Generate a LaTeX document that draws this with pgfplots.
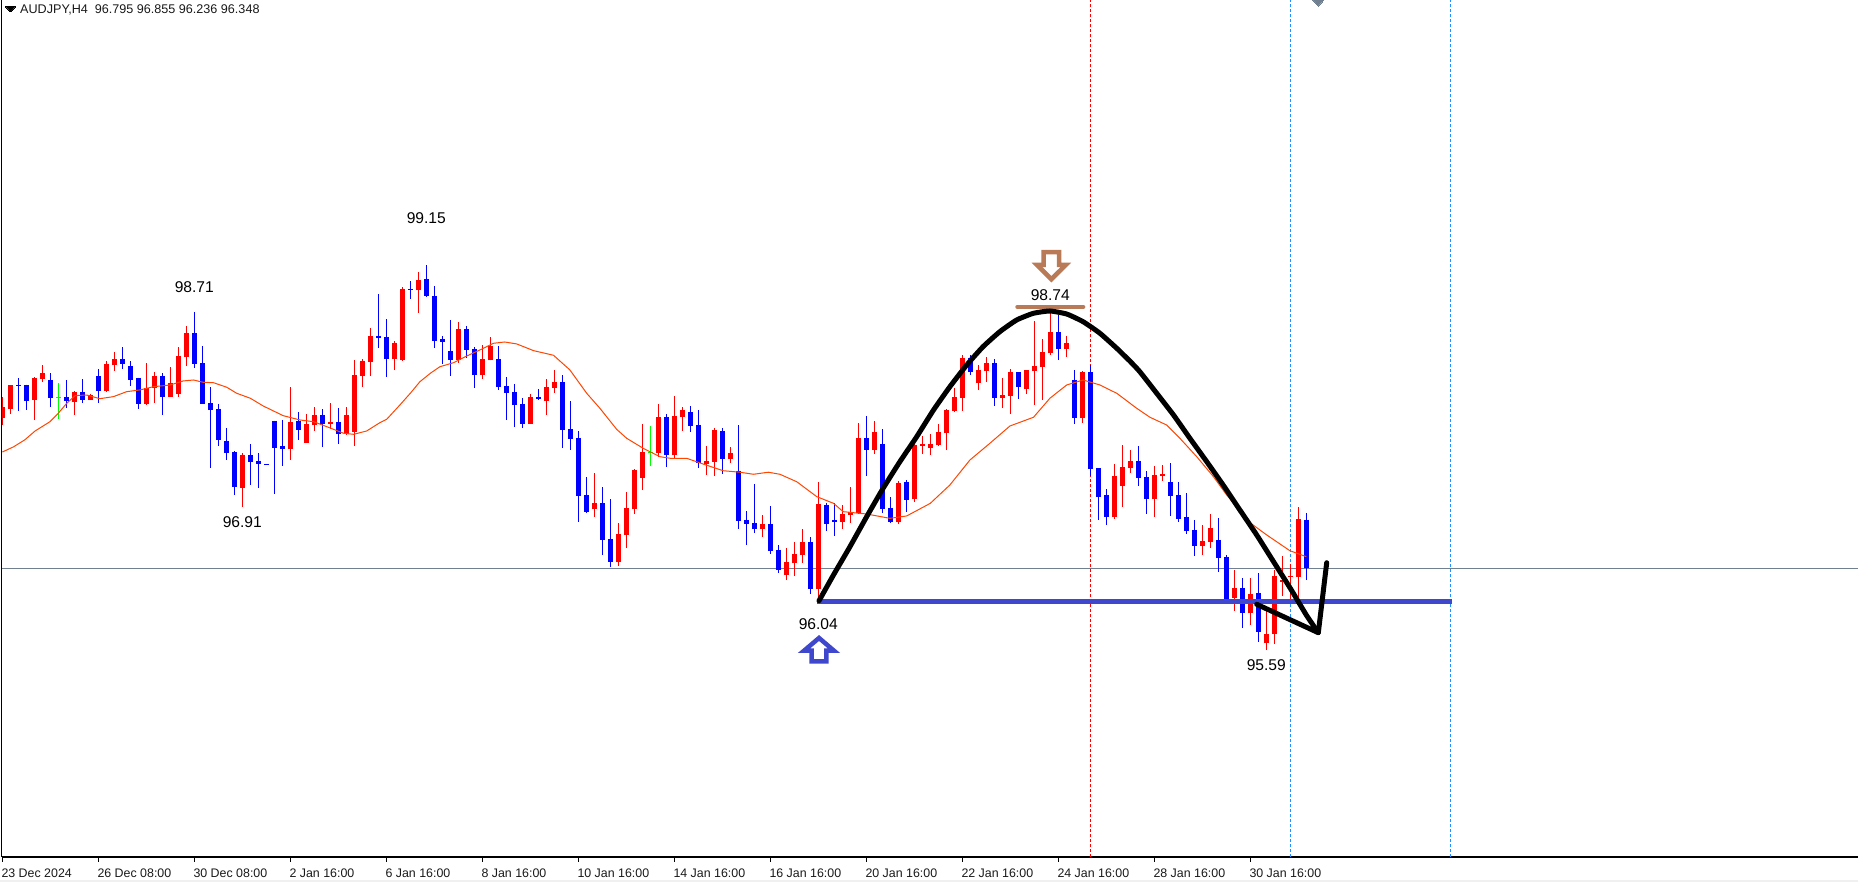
\documentclass[border=0pt]{standalone}
\usepackage{fontspec}
\setmainfont{Liberation Sans}
\usepackage{pgfplots}
\usepackage{pgfplotstable}
\pgfplotsset{compat=1.18}

\definecolor{maline}{HTML}{FF4500}
\definecolor{barblue}{HTML}{0000FF}
\definecolor{barred}{HTML}{FF0000}
\definecolor{bargreen}{HTML}{00FF00}
\definecolor{slate}{HTML}{708090}
\definecolor{dodger}{HTML}{1E90FF}
\definecolor{level}{HTML}{3F48CC}
\definecolor{brownish}{HTML}{B97A57}

% H4 candles: index, open, high, low, close
\pgfplotstableread{
i o h l c
0 97.737 97.932 97.673 97.839
1 97.821 98.043 97.774 98.043
4 97.904 98.117 97.719 98.108
5 98.099 98.228 98.070 98.154
9 97.885 97.988 97.765 97.978
11 97.904 97.960 97.904 97.951
13 97.988 98.265 97.978 98.237
14 98.228 98.348 98.173 98.284
18 97.867 98.246 97.858 98.015
19 98.015 98.163 97.876 98.126
21 97.932 98.210 97.932 98.061
22 97.960 98.395 97.932 98.311
23 98.302 98.589 98.219 98.524
30 97.089 97.413 96.913 97.395
36 97.450 98.024 97.348 97.700
38 97.506 97.774 97.506 97.682
39 97.673 97.839 97.617 97.765
41 97.682 97.876 97.635 97.700
43 97.589 97.839 97.580 97.765
44 97.608 98.274 97.478 98.136
45 98.126 98.284 98.024 98.265
46 98.256 98.571 98.126 98.497
49 98.284 98.450 98.182 98.432
50 98.274 98.950 98.265 98.932
52 98.923 99.089 98.709 99.015
57 98.274 98.626 98.246 98.561
60 98.136 98.413 98.099 98.284
61 98.274 98.488 98.274 98.404
66 97.682 97.960 97.682 97.932
68 97.895 98.099 97.765 98.024
69 98.015 98.182 97.969 98.070
74 96.895 97.228 96.820 96.950
77 96.403 96.765 96.366 96.663
78 96.654 97.052 96.534 96.904
79 96.895 97.265 96.848 97.256
80 97.182 97.682 97.071 97.422
82 97.413 97.867 97.376 97.746
84 97.395 97.941 97.367 97.756
85 97.746 97.839 97.617 97.811
88 97.311 97.478 97.210 97.339
89 97.330 97.645 97.200 97.626
91 97.357 97.469 97.320 97.413
95 96.709 96.839 96.635 96.756
98 96.284 96.534 96.237 96.403
99 96.394 96.589 96.274 96.478
100 96.469 96.709 96.394 96.589
102 96.154 97.145 96.040 96.941
105 96.774 96.932 96.709 96.848
106 96.839 97.099 96.765 96.866
107 96.857 97.691 96.848 97.552
109 97.441 97.710 97.404 97.608
112 96.774 97.154 96.756 97.136
114 96.987 97.506 96.959 97.487
115 97.478 97.571 97.404 97.497
116 97.460 97.589 97.395 97.497
117 97.487 97.682 97.478 97.608
118 97.598 97.821 97.441 97.811
119 97.802 98.015 97.792 97.932
120 97.923 98.321 97.802 98.293
122 98.061 98.228 97.997 98.182
123 98.173 98.302 98.070 98.246
125 97.923 98.108 97.830 97.951
126 97.941 98.191 97.774 98.163
128 98.006 98.182 97.960 98.182
129 98.173 98.635 97.858 98.219
130 98.210 98.469 97.904 98.348
131 98.339 98.740 98.321 98.534
133 98.376 98.497 98.302 98.432
135 97.737 98.173 97.691 98.163
139 96.821 97.311 96.802 97.200
140 97.108 97.487 96.913 97.284
141 97.274 97.441 97.228 97.339
144 96.987 97.293 96.821 97.210
145 97.200 97.302 97.154 97.219
150 96.552 96.746 96.469 96.598
151 96.589 96.848 96.534 96.719
154 96.071 96.330 95.950 96.163
156 95.931 96.256 95.821 96.108
158 95.654 95.959 95.589 95.737
159 95.737 96.330 95.645 96.274
160 96.219 96.459 96.089 96.237
161 96.265 96.385 96.061 96.274
162 96.265 96.913 96.006 96.802
}\redcandles

\pgfplotstableread{
i o h l c
2 98.043 98.108 97.802 98.033
3 98.043 98.043 97.811 97.895
6 98.089 98.154 97.839 97.923
8 97.932 98.089 97.830 97.895
10 97.978 98.099 97.876 97.904
12 98.126 98.191 97.876 97.988
15 98.284 98.395 98.191 98.237
16 98.219 98.265 98.033 98.089
17 98.108 98.108 97.821 97.867
20 98.126 98.154 97.765 97.932
24 98.524 98.718 98.200 98.237
25 98.246 98.404 97.867 97.867
26 97.876 98.024 97.274 97.811
27 97.821 97.867 97.478 97.534
28 97.525 97.645 97.348 97.413
29 97.422 97.432 97.025 97.099
31 97.395 97.497 97.117 97.330
32 97.339 97.413 97.089 97.311
33 97.311 97.311 97.302 97.302
34 97.710 97.710 97.034 97.460
35 97.478 97.719 97.293 97.450
37 97.710 97.792 97.534 97.626
40 97.765 97.821 97.469 97.682
42 97.700 97.830 97.497 97.589
47 98.497 98.886 98.385 98.478
48 98.488 98.654 98.117 98.284
51 98.932 99.006 98.839 98.923
53 99.025 99.155 98.858 98.867
54 98.867 98.959 98.385 98.450
55 98.469 98.497 98.237 98.441
56 98.358 98.645 98.126 98.274
58 98.561 98.589 98.293 98.367
59 98.376 98.395 98.015 98.136
62 98.284 98.404 97.997 98.024
63 98.033 98.117 97.719 97.969
64 97.978 98.052 97.654 97.858
65 97.867 97.923 97.645 97.682
67 97.932 98.006 97.904 97.914
70 98.070 98.136 97.460 97.626
71 97.635 97.895 97.441 97.543
72 97.552 97.617 96.774 97.015
73 97.025 97.191 96.857 96.866
75 96.950 97.099 96.469 96.608
76 96.617 96.987 96.357 96.403
83 97.746 97.774 97.284 97.395
86 97.792 97.848 97.608 97.663
87 97.673 97.811 97.274 97.320
90 97.617 97.645 97.219 97.357
92 97.247 97.673 96.709 96.784
93 96.793 96.876 96.562 96.756
94 96.765 97.126 96.672 96.709
96 96.756 96.922 96.478 96.506
97 96.515 96.561 96.302 96.330
101 96.589 96.635 96.108 96.154
103 96.932 96.950 96.691 96.756
104 96.793 96.950 96.645 96.774
108 97.552 97.756 97.200 97.441
110 97.497 97.635 96.857 96.895
111 96.904 97.006 96.765 96.774
113 97.145 97.163 96.866 96.978
121 98.293 98.321 98.136 98.163
124 98.246 98.284 97.848 97.923
127 98.163 98.163 97.914 98.024
132 98.534 98.691 98.274 98.376
134 98.089 98.182 97.682 97.737
136 98.163 98.228 97.200 97.265
137 97.274 97.274 96.793 97.006
138 97.025 97.080 96.747 96.821
142 97.339 97.478 97.108 97.182
143 97.191 97.247 96.848 96.987
146 97.145 97.320 96.830 97.015
147 97.025 97.145 96.774 96.802
148 96.821 97.043 96.663 96.691
149 96.700 96.793 96.459 96.552
152 96.608 96.811 96.311 96.441
153 96.450 96.469 96.024 96.052
155 96.163 96.256 95.793 95.931
157 96.117 96.302 95.663 95.756
163 96.795 96.855 96.236 96.348
}\bluecandles

\pgfplotstableread{
i o h l c
7 97.932 98.061 97.728 97.923
81 97.422 97.663 97.293 97.413
}\greencandles

% moving average
\pgfplotstableread{
i y
0 97.422
1.4 97.470
2.8 97.534
4.1 97.617
5.96 97.703
7 97.781
8.05 97.873
9.1 97.944
10.55 97.950
12.2 97.916
13.9 97.935
15.55 97.981
17.2 97.997
18.9 98.027
21 98.043
22.6 98.080
23.9 98.089
25.1 98.068
26.4 98.064
28.05 98.022
29.3 97.966
31 97.920
32.6 97.849
35.1 97.759
37.2 97.719
38.9 97.703
40.55 97.657
42.65 97.596
43.9 97.586
45.55 97.617
47.2 97.694
48.05 97.725
49.7 97.858
51 97.966
52.2 98.073
53.5 98.151
54.7 98.212
56.4 98.249
58.05 98.311
59.7 98.367
61.4 98.429
62.8 98.441
64.3 98.423
66.4 98.361
68.9 98.318
70.95 98.182
73.05 97.966
74.7 97.827
76.8 97.632
78.05 97.549
80.1 97.457
82.2 97.379
83.5 97.364
85.55 97.364
87.6 97.311
90.1 97.249
92.2 97.235
93.9 97.216
95.75 97.235
97.2 97.216
99.3 97.147
101.8 97.009
103.9 96.947
105.1 96.870
108.05 96.848
110.95 96.808
113.05 96.830
116 96.947
118.45 97.117
120.95 97.348
123.45 97.503
125.95 97.663
128.9 97.744
130.95 97.920
133.05 98.043
135.1 98.089
137.2 98.043
139.3 97.966
141.8 97.827
143.45 97.744
145.55 97.672
147.2 97.549
149.3 97.379
151.4 97.193
153.05 97.024
155.95 96.768
158.05 96.654
160.95 96.508
163 96.453
}\maline

% hand drawn black arc
\pgfplotstableread{
i y
102.09 96.045
103.9 96.284
105.96 96.546
108.05 96.824
110.1 97.086
112.2 97.333
114.3 97.564
116.4 97.811
118.45 98.027
120.55 98.228
122.6 98.398
124.7 98.537
126.8 98.645
128.9 98.707
130.95 98.728
133.05 98.700
135.1 98.629
137.2 98.522
139.3 98.383
141 98.260
142.2 98.165
144.3 97.966
146.4 97.765
148.45 97.549
150.55 97.333
152.6 97.117
154.7 96.885
156.8 96.654
158.9 96.407
161 96.160
163 95.913
164.5 95.749
}\arcline

\newcommand{\candles}[2]{%
  \addplot[only marks, mark=*, mark size=0pt, mark options={draw=none, fill=none}, forget plot,
    error bars/.cd, y dir=both, y explicit, error mark=none,
    error bar style={color=#2, solid, line width=1pt}]
    table[x=i, y=o,
      y error plus expr={\thisrow{h}-\thisrow{o}},
      y error minus expr={\thisrow{o}-\thisrow{l}}] {#1};
  \addplot[only marks, mark=*, mark size=0pt, mark options={draw=none, fill=none}, forget plot,
    error bars/.cd, y dir=both, y explicit, error mark=none,
    error bar style={color=#2, solid, line width=5pt}]
    table[x=i, y=o,
      y error plus expr={max(\thisrow{c}-\thisrow{o},0)},
      y error minus expr={max(\thisrow{o}-\thisrow{c},0)}] {#1};
}

\begin{document}
\begin{tikzpicture}[x=1pt,y=1pt]
\useasboundingbox (0,0) rectangle (1858,882);
\fill[black!6] (0,0) rectangle (1858,2);
\begin{axis}[
    at={(1.5pt,25pt)}, anchor=south west,
    scale only axis, width=1856.5pt, height=857pt,
    xmin=-0.1, xmax=231.96,
    ymin=93.672, ymax=101.608,
    axis x line=bottom, axis y line=left,
    axis line style={-, black, line width=1.2pt},
    ytick=\empty,
    xtick={0,12,...,156},
    xticklabels={23 Dec 2024,26 Dec 08:00,30 Dec 08:00,2 Jan 16:00,6 Jan 16:00,8 Jan 16:00,10 Jan 16:00,14 Jan 16:00,16 Jan 16:00,20 Jan 16:00,22 Jan 16:00,24 Jan 16:00,28 Jan 16:00,30 Jan 16:00},
    major tick length=5pt,
    tick style={black, line width=0.8pt},
    x tick label style={anchor=west, inner sep=0pt, xshift=-1pt, yshift=-11.5pt,
      font=\fontsize{12.4}{14}\selectfont, text=black!90},
    tick align=outside,
]
% bid line and the three session markers
\addplot[slate, line width=1pt, forget plot] coordinates {(-0.1,96.348) (231.96,96.348)};
\addplot[barred, line width=1pt, dash pattern=on 3pt off 2pt, forget plot] coordinates {(136,93.672) (136,101.608)};
\addplot[dodger, line width=1pt, dash pattern=on 3pt off 2pt, forget plot] coordinates {(161,93.672) (161,101.608)};
\addplot[dodger, line width=1pt, dash pattern=on 3pt off 2pt, forget plot] coordinates {(181,93.672) (181,101.608)};

\candles{\redcandles}{barred}
\candles{\bluecandles}{barblue}
\candles{\greencandles}{bargreen}

\addplot[maline, line width=1pt, forget plot] table[x=i, y=y] {\maline};

% neckline and peak level
\addplot[level, line width=5pt, forget plot] coordinates {(101.8,96.04) (181.2,96.04)};
\addplot[brownish, line width=4.5pt, line cap=round, forget plot] coordinates {(126.9,98.766) (135.1,98.766)};

\addplot[black, line width=5pt, smooth, tension=0.3, line cap=round, forget plot] table[x=i, y=y] {\arcline};
\addplot[black, line width=5pt, line join=round, line cap=round, forget plot] coordinates {(156.8,96.012) (164.5,95.749) (165.55,96.397)};

% arrows
\addplot[level, line width=4.5pt, fill=white, forget plot] coordinates {
  (101.17,95.484) (103.0,95.484) (103.0,95.582) (103.96,95.582) (102.09,95.70) (100.21,95.582) (101.17,95.582)} -- cycle;
\addplot[brownish, line width=4.5pt, fill=white, forget plot] coordinates {
  (130.17,99.274) (132.09,99.274) (132.09,99.154) (132.93,99.154) (131.13,99.022) (129.34,99.154) (130.17,99.154)} -- cycle;

% small triangle by the title and the grey marker cut by the top edge
\addplot[black, fill=black, line width=0pt, forget plot] coordinates {(0.46,101.543) (1.6,101.543) (1.03,101.497)} -- cycle;
\addplot[slate, fill=slate, line width=0pt, forget plot] coordinates {(163.8,101.608) (165.2,101.608) (164.5,101.552)} -- cycle;

\node[font=\fontsize{15.6}{18}\selectfont] at (axis cs:24,98.95) {98.71};
\node[font=\fontsize{15.6}{18}\selectfont] at (axis cs:53,99.589) {99.15};
\node[font=\fontsize{15.6}{18}\selectfont] at (axis cs:30,96.769) {96.91};
\node[font=\fontsize{15.6}{18}\selectfont] at (axis cs:102,95.827) {96.04};
\node[font=\fontsize{15.6}{18}\selectfont] at (axis cs:131,98.876) {98.74};
\node[font=\fontsize{15.6}{18}\selectfont] at (axis cs:158,95.45) {95.59};
\end{axis}
\node[anchor=west, inner sep=0pt, font=\fontsize{12.6}{14}\selectfont, text=black!90] at (20,872) {AUDJPY,H4\ \ 96.795 96.855 96.236 96.348};
\end{tikzpicture}
\end{document}
